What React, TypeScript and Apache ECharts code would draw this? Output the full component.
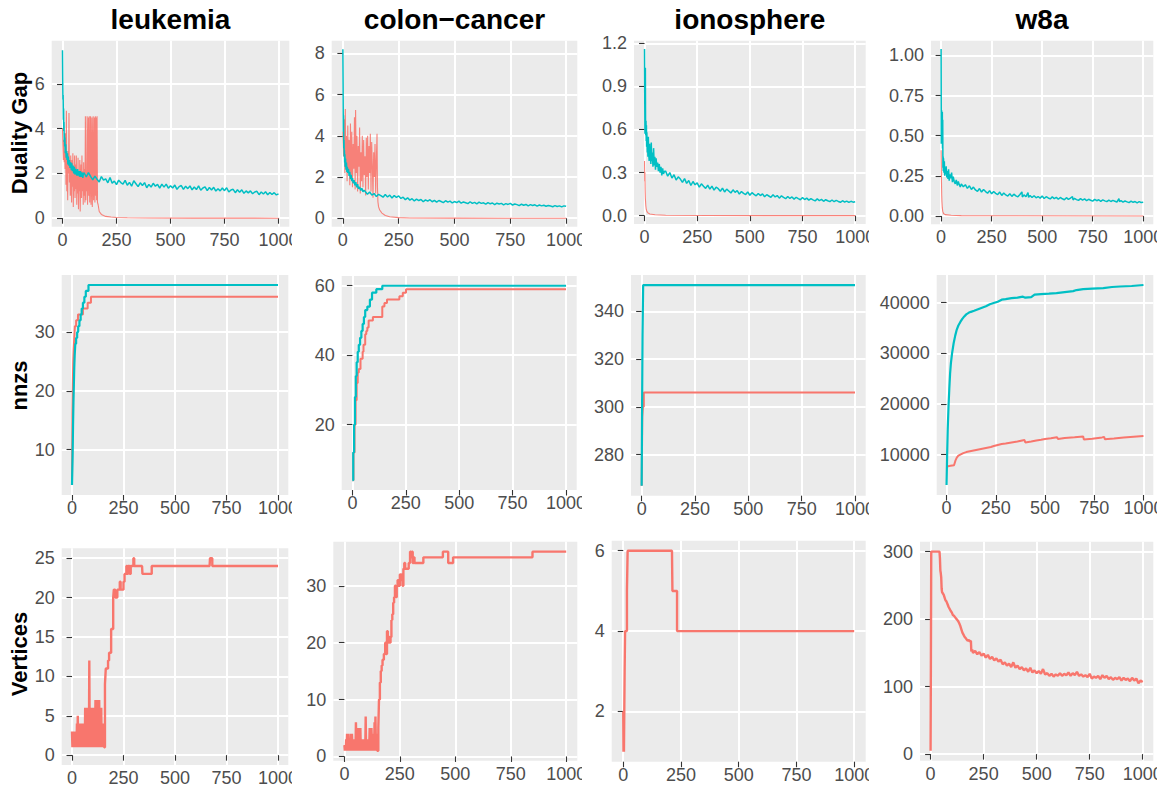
import React, { useEffect, useRef } from "react";
import * as echarts from "echarts";

type Pt = [number, number];

const X_TICKS = [0, 250, 500, 750, 1000];
const COL_TITLES = ["leukemia", "colon\u2212cancer", "ionosphere", "w8a"];
const ROW_TITLES = ["Duality Gap", "nnzs", "Vertices"];
const SERIES_NAMES = ["Method 1", "Method 2"];

// ---------- Row 1: Duality Gap ----------
const leukGapRed: Pt[] = [[0,4.0],[2,3.2],[4,2.6],[6,3.5],[8,2.5],[10,3.0],[12,2.2],[14,3.8],[16,1.5],[18,4.8],[20,1.2],[22,2.5],[24,0.8],[26,3.0],[28,2.0],[30,4.7],[32,1.6],[34,2.6],[36,1.0],[38,2.8],[40,1.8],[42,0.7],[44,2.6],[46,1.4],[48,2.9],[50,0.5],[52,2.2],[54,1.2],[56,2.8],[58,0.9],[60,2.4],[62,1.3],[64,2.8],[66,0.6],[68,2.0],[70,1.1],[72,2.7],[74,0.4],[76,1.9],[78,1.2],[80,2.6],[82,0.3],[84,1.6],[86,2.4],[88,0.9],[90,2.8],[92,1.2],[94,2.1],[96,0.6],[98,2.5],[100,1.0],[102,2.2],[104,0.7],[106,4.55],[108,0.8],[110,2.0],[112,1.2],[114,4.55],[116,0.6],[118,2.4],[120,4.5],[122,1.0],[124,4.55],[126,0.7],[128,2.0],[130,4.55],[132,0.6],[134,1.8],[136,4.5],[138,0.5],[140,2.2],[142,4.55],[144,0.8],[146,1.5],[148,4.5],[150,0.7],[152,4.55],[154,1.0],[156,4.5],[158,0.8],[160,4.55],[162,0.7],[165,0.6],[170,0.3],[180,0.17],[190,0.12],[200,0.08],[225,0.05],[250,0.03],[300,0.02],[400,0.01],[600,0.005],[1000,0]];
const leukGapCyan: Pt[] = [[0,7.5],[1,6.2],[2,5.3],[3,5.5],[4,4.4],[5,4.9],[6,3.9],[7,4.3],[8,3.4],[9,3.8],[10,3.2],[11,3.6],[13,2.9],[15,3.3],[17,2.7],[19,3.0],[21,2.6],[23,2.9],[25,2.4],[27,2.75],[30,2.35],[32,2.6],[35,2.25],[38,2.5],[41,2.15],[43,2.45],[46,2.1],[49,2.35],[52,2.0],[55,2.3],[58,1.95],[61,2.2],[64,2.05],[67,1.9],[70,2.2],[73,1.9],[76,2.1],[79,1.85],[83,2.1],[86,1.85],[90,2.05],[94,1.8],[97,2.0],[100,2.03],[110,1.84],[120,2.04],[130,1.87],[140,1.71],[150,1.88],[160,1.74],[170,1.62],[180,1.86],[190,1.70],[200,1.76],[210,1.58],[220,1.82],[230,1.56],[240,1.66],[250,1.50],[260,1.70],[270,1.59],[280,1.52],[290,1.69],[300,1.47],[310,1.60],[320,1.43],[330,1.67],[340,1.54],[350,1.41],[360,1.58],[370,1.46],[380,1.59],[390,1.36],[400,1.51],[410,1.39],[420,1.56],[430,1.43],[440,1.51],[450,1.34],[460,1.52],[470,1.39],[480,1.52],[490,1.34],[500,1.45],[510,1.35],[520,1.48],[530,1.29],[540,1.41],[550,1.46],[560,1.29],[570,1.43],[580,1.32],[590,1.44],[600,1.27],[610,1.39],[620,1.28],[630,1.44],[640,1.25],[650,1.35],[660,1.40],[670,1.23],[680,1.37],[690,1.26],[700,1.38],[710,1.21],[720,1.32],[730,1.22],[740,1.35],[750,1.23],[760,1.36],[770,1.17],[780,1.26],[790,1.29],[800,1.14],[810,1.27],[820,1.16],[830,1.27],[840,1.11],[850,1.22],[860,1.13],[870,1.22],[880,1.09],[890,1.17],[900,1.20],[910,1.05],[920,1.17],[930,1.08],[940,1.18],[950,1.05],[960,1.15],[970,1.06],[980,1.14],[990,1.04],[1000,1.09]];

const colonGapRed: Pt[] = [[0,4.2],[3,3.0],[6,4.8],[9,2.2],[11,5.3],[13,2.5],[16,4.0],[19,1.8],[22,4.5],[25,2.3],[28,3.8],[31,1.6],[34,4.6],[37,2.0],[40,4.2],[43,1.5],[46,3.6],[49,2.4],[52,4.9],[55,1.4],[57,5.25],[60,2.2],[63,4.0],[66,1.3],[69,3.5],[72,2.5],[75,4.4],[78,1.2],[81,3.2],[84,1.8],[87,4.0],[90,1.5],[93,3.8],[96,2.1],[99,3.0],[102,1.1],[105,3.9],[108,2.0],[111,4.0],[114,1.4],[117,3.5],[120,2.2],[123,4.1],[126,1.3],[129,3.7],[132,2.6],[135,1.0],[138,3.2],[141,2.0],[144,3.6],[147,1.2],[150,2.8],[153,4.1],[155,1.5],[157,0.8],[160,0.55],[165,0.4],[175,0.25],[190,0.13],[210,0.07],[250,0.03],[300,0.015],[500,0.005],[1000,0]];
const colonGapCyan: Pt[] = [[0,8.2],[1,6.5],[2,4.2],[3,5.0],[4,3.4],[5,3.8],[6,3.0],[7,3.3],[8,2.7],[9,3.1],[10,2.5],[12,2.9],[14,2.35],[16,2.7],[18,2.25],[20,2.5],[22,2.2],[25,2.4],[28,2.05],[31,2.25],[34,1.9],[37,2.1],[40,1.8],[43,1.95],[46,1.7],[50,1.85],[54,1.6],[58,1.75],[62,1.5],[66,1.65],[70,1.42],[75,1.52],[80,1.35],[85,1.45],[90,1.28],[95,1.36],[100,1.30],[110,1.16],[120,1.27],[130,1.12],[140,1.20],[150,1.05],[160,1.16],[170,1.10],[180,1.02],[190,1.15],[200,1.03],[210,1.12],[220,0.98],[230,1.10],[240,1.01],[250,1.08],[260,0.96],[270,1.02],[280,0.90],[290,0.99],[300,0.88],[310,0.95],[320,0.84],[330,0.93],[340,0.86],[350,0.91],[360,0.80],[370,0.89],[380,0.83],[390,0.90],[400,0.80],[410,0.87],[420,0.78],[430,0.86],[440,0.81],[450,0.76],[460,0.85],[470,0.78],[480,0.83],[490,0.74],[500,0.81],[510,0.76],[520,0.83],[530,0.73],[540,0.79],[550,0.75],[560,0.71],[570,0.80],[580,0.72],[590,0.77],[600,0.70],[610,0.78],[620,0.72],[630,0.75],[640,0.68],[650,0.76],[660,0.70],[670,0.74],[680,0.66],[690,0.73],[700,0.69],[710,0.72],[720,0.65],[730,0.71],[740,0.67],[750,0.72],[760,0.64],[770,0.69],[780,0.66],[790,0.61],[800,0.68],[810,0.63],[820,0.67],[830,0.60],[840,0.66],[850,0.62],[860,0.65],[870,0.59],[880,0.64],[890,0.60],[900,0.63],[910,0.58],[920,0.62],[930,0.59],[940,0.56],[950,0.61],[960,0.57],[970,0.60],[980,0.55],[990,0.60],[1000,0.58]];

const ionoGapRed: Pt[] = [[0,0.38],[1,0.24],[2,0.3],[3,0.18],[4,0.12],[6,0.07],[8,0.045],[11,0.03],[15,0.02],[25,0.012],[50,0.006],[100,0.003],[300,0.001],[1000,0]];
const ionoGapCyan: Pt[] = [[0,1.16],[1,0.82],[2,0.57],[3,0.66],[4,1.03],[5,0.6],[6,0.56],[7,0.66],[8,0.52],[9,0.63],[10,0.48],[11,0.58],[13,0.44],[15,0.52],[16,0.41],[18,0.55],[20,0.43],[22,0.38],[24,0.5],[26,0.4],[28,0.46],[30,0.36],[32,0.51],[34,0.38],[37,0.44],[40,0.34],[43,0.47],[46,0.35],[49,0.41],[52,0.32],[55,0.4],[58,0.34],[62,0.37],[66,0.31],[70,0.36],[74,0.3],[78,0.34],[82,0.28],[86,0.33],[90,0.29],[95,0.31],[100,0.31],[110,0.275],[120,0.30],[130,0.262],[140,0.285],[150,0.248],[160,0.27],[170,0.255],[180,0.232],[190,0.258],[200,0.225],[210,0.245],[220,0.21],[230,0.238],[240,0.215],[250,0.228],[260,0.198],[270,0.222],[280,0.205],[290,0.19],[300,0.212],[310,0.185],[320,0.205],[330,0.178],[340,0.198],[350,0.188],[360,0.17],[370,0.192],[380,0.165],[390,0.185],[400,0.172],[410,0.158],[420,0.18],[430,0.162],[440,0.175],[450,0.15],[460,0.168],[470,0.155],[480,0.147],[490,0.165],[500,0.142],[510,0.16],[520,0.148],[530,0.138],[540,0.155],[550,0.14],[560,0.152],[570,0.132],[580,0.146],[590,0.137],[600,0.128],[610,0.145],[620,0.13],[630,0.14],[640,0.122],[650,0.138],[660,0.127],[670,0.118],[680,0.134],[690,0.12],[700,0.13],[710,0.115],[720,0.128],[730,0.119],[740,0.111],[750,0.126],[760,0.112],[770,0.122],[780,0.108],[790,0.119],[800,0.11],[810,0.103],[820,0.117],[830,0.105],[840,0.113],[850,0.1],[860,0.111],[870,0.104],[880,0.098],[890,0.109],[900,0.097],[910,0.106],[920,0.099],[930,0.093],[940,0.104],[950,0.095],[960,0.101],[970,0.092],[980,0.1],[990,0.094],[1000,0.097]];

const w8aGapRed: Pt[] = [[0,0.41],[1,0.3],[2,0.2],[3,0.13],[4,0.09],[6,0.05],[8,0.03],[12,0.015],[20,0.008],[50,0.004],[100,0.002],[1000,0]];
const w8aGapCyan: Pt[] = [[0,1.04],[1,0.45],[2,0.66],[3,0.5],[4,0.63],[5,0.55],[6,0.65],[7,0.42],[8,0.6],[9,0.3],[10,0.37],[11,0.28],[12,0.36],[14,0.27],[16,0.34],[18,0.25],[20,0.3],[22,0.26],[25,0.31],[28,0.24],[31,0.28],[34,0.23],[37,0.29],[40,0.22],[44,0.26],[48,0.235],[52,0.27],[56,0.21],[60,0.245],[65,0.215],[70,0.2],[75,0.225],[80,0.19],[85,0.215],[90,0.195],[95,0.18],[100,0.2],[110,0.182],[120,0.195],[130,0.172],[140,0.188],[150,0.165],[160,0.18],[170,0.162],[180,0.153],[190,0.171],[200,0.149],[210,0.165],[220,0.152],[230,0.142],[240,0.158],[250,0.138],[260,0.152],[270,0.141],[280,0.133],[290,0.149],[300,0.128],[310,0.143],[320,0.131],[330,0.124],[340,0.139],[350,0.122],[360,0.136],[370,0.125],[380,0.119],[390,0.134],[400,0.15],[402,0.118],[410,0.131],[420,0.12],[430,0.145],[433,0.116],[440,0.128],[450,0.115],[460,0.126],[470,0.113],[480,0.121],[490,0.111],[500,0.124],[510,0.109],[520,0.12],[530,0.112],[540,0.106],[550,0.119],[560,0.108],[570,0.116],[580,0.104],[590,0.115],[600,0.107],[610,0.101],[620,0.114],[630,0.103],[640,0.111],[650,0.12],[653,0.1],[660,0.11],[670,0.102],[680,0.097],[690,0.108],[700,0.099],[710,0.106],[720,0.096],[730,0.104],[740,0.098],[750,0.092],[760,0.103],[770,0.095],[780,0.101],[790,0.091],[800,0.1],[810,0.094],[820,0.089],[830,0.099],[840,0.09],[850,0.097],[860,0.092],[870,0.087],[880,0.108],[883,0.089],[890,0.095],[900,0.086],[910,0.093],[920,0.088],[930,0.083],[940,0.092],[950,0.085],[960,0.09],[970,0.082],[980,0.089],[990,0.084],[1000,0.086]];

// ---------- Row 2: nnzs ----------
const leukNnzRed: Pt[] = [[0,4],[2,16],[4,21],[6,25],[8,27],[11,29],[14,31],[20,32],[29,33],[53,34],[76,35],[92,36],[1000,36]];
const leukNnzCyan: Pt[] = [[0,4],[3,9],[5,14],[7,18],[9,21],[11,24],[13,26],[16,28],[20,29],[25,30],[30,31],[36,32],[42,33],[47,34],[53,35],[60,36],[67,37],[80,38],[1000,38]];
const colonNnzRed: Pt[] = [[0,4],[5,12],[10,20],[15,27],[20,32],[25,35],[30,36],[38,39],[48,41],[52,43],[60,46],[65,47],[70,48],[76,50],[96,51],[140,54],[150,55],[162,56],[220,57],[236,58],[251,59],[1000,59]];
const colonNnzCyan: Pt[] = [[0,4],[4,12],[8,20],[12,28],[16,34],[20,38],[25,41],[30,43],[36,45],[42,47],[48,49],[54,51],[60,53],[70,54],[82,56],[92,58],[112,59],[140,60],[1000,60]];
const ionoNnzRed: Pt[] = [[0,267],[3,296],[6,300],[10,306],[1000,306]];
const ionoNnzCyan: Pt[] = [[0,267],[2,300],[4,330],[7,351],[1000,351]];
const w8aNnzRed: Pt[] = [[0,7500],[8,7700],[20,7800],[38,7900],[45,8800],[52,9400],[60,9800],[70,10000],[85,10300],[100,10500],[125,10700],[150,10900],[175,11100],[200,11300],[225,11500],[240,11700],[260,11900],[280,12100],[300,12200],[330,12400],[360,12600],[396,12900],[400,12400],[430,12600],[456,12800],[480,12950],[500,13100],[530,13250],[560,13450],[566,13100],[600,13300],[650,13450],[694,13600],[697,13000],[740,13150],[790,13400],[800,13500],[804,13050],[850,13200],[900,13400],[950,13550],[1000,13700]];
const w8aNnzCyan: Pt[] = [[0,4000],[3,10000],[6,15000],[10,19500],[14,23000],[18,26000],[22,28000],[28,30000],[36,32000],[44,33500],[52,34700],[60,35500],[70,36200],[80,36800],[90,37300],[100,37700],[112,38000],[124,38200],[140,38400],[160,38700],[180,39000],[200,39300],[220,39700],[243,40000],[260,40200],[280,40600],[300,40700],[330,40900],[360,41000],[388,41200],[400,41000],[430,41100],[447,41600],[480,41700],[520,41800],[558,41900],[600,42100],[643,42300],[660,42500],[694,42700],[740,42800],[796,42900],[840,43100],[881,43200],[940,43300],[1000,43500]];

// ---------- Row 3: Vertices ----------
const leukVertRed: Pt[] = [[0,3],[2,1],[4,3],[6,1],[8,2],[10,1],[12,2],[14,1],[16,3],[18,1],[20,2],[22,1],[24,4],[26,1],[28,5],[30,1],[32,3],[34,1],[36,4],[38,1],[40,2],[42,4],[44,1],[46,3],[48,1],[50,4],[52,2],[54,1],[56,4],[58,1],[60,3],[62,1],[64,6],[66,1],[68,5],[70,2],[72,6],[74,1],[76,4],[78,1],[80,3],[82,1],[84,12],[86,2],[88,1],[90,6],[92,1],[94,4],[96,1],[98,6],[100,2],[102,1],[104,5],[106,1],[108,6],[110,1],[112,3],[114,7],[116,1],[118,5],[120,1],[122,7],[124,2],[126,1],[128,6],[130,1],[132,7],[134,2],[136,1],[138,4],[140,1],[142,6],[144,1],[146,3],[148,1],[150,2],[152,1],[154,4],[156,1],[158,1],[160,9],[162,10],[164,11],[175,12],[180,13],[190,16],[200,20],[203,21],[210,20],[220,21],[232,22],[236,21],[250,22],[255,23],[264,24],[268,23],[272,24],[280,23],[285,24],[298,25],[302,24],[340,24],[342,23],[387,24],[668,24],[670,25],[681,24],[1000,24]];
const colonVertRed: Pt[] = [[0,2],[2,1],[4,2],[6,1],[8,3],[10,1],[12,4],[14,1],[16,2],[18,4],[20,1],[22,3],[24,1],[26,2],[28,1],[30,4],[32,1],[34,4],[36,2],[38,1],[40,3],[42,1],[44,2],[46,1],[48,3],[50,1],[52,6],[54,2],[56,1],[58,5],[60,1],[62,3],[64,1],[66,5],[68,2],[70,1],[72,5],[74,1],[76,2],[78,1],[80,3],[82,1],[84,2],[86,1],[88,3],[90,1],[92,2],[94,1],[96,7],[98,1],[100,3],[102,1],[104,2],[106,1],[108,3],[110,1],[112,2],[114,5],[116,1],[118,3],[120,1],[122,5],[124,2],[126,1],[128,4],[130,1],[132,2],[134,1],[136,6],[138,1],[140,7],[142,2],[144,1],[146,4],[148,1],[150,1],[153,5],[156,10],[160,13],[164,15],[168,16],[172,17],[178,18],[184,20],[188,18],[192,22],[196,20],[200,21],[204,20],[208,21],[212,24],[216,25],[220,27],[224,28],[228,30],[232,28],[236,30],[240,31],[246,30],[250,32],[254,31],[258,32],[262,30],[266,33],[270,34],[274,33],[290,34],[296,36],[300,35],[304,36],[308,34],[312,35],[316,34],[356,35],[444,36],[468,34],[490,35],[848,36],[1000,36]];
const ionoVertRed: Pt[] = [[0,2],[1,1],[2,2],[3,1],[5,1],[6,3],[8,4],[16,5],[19,6],[211,6],[213,5],[233,4],[1000,4]];
const w8aVertRed: Pt[] = [[0,5],[3,300],[42,300],[44,290],[46,272],[48,268],[50,262],[52,245],[54,240],[58,238],[62,236],[66,232],[70,228],[75,226],[80,222],[85,218],[90,215],[95,212],[100,210],[105,206],[110,205],[115,203],[120,201],[125,199],[130,197],[135,194],[140,190],[145,185],[150,180],[155,177],[160,174],[165,172],[170,170],[175,168],[180,169],[185,167],[190,168],[192,152],[196,155],[200,150],[210,153],[220,148],[230,151],[240,146],[250,149],[260,143],[270,147],[280,141],[290,144],[300,139],[310,142],[320,137],[330,140],[340,133],[350,136],[360,131],[370,134],[380,129],[390,136],[400,128],[410,131],[420,126],[430,129],[440,124],[450,127],[460,122],[470,128],[480,121],[490,124],[500,120],[510,123],[520,119],[530,126],[540,118],[550,120],[560,116],[570,119],[580,115],[590,118],[600,116],[610,120],[620,116],[630,119],[640,117],[650,121],[660,116],[670,120],[680,117],[690,122],[700,116],[710,118],[720,115],[730,117],[740,114],[750,119],[760,112],[770,115],[780,113],[790,116],[800,111],[810,117],[820,113],[830,116],[840,111],[850,114],[860,110],[870,113],[880,111],[890,114],[900,109],[910,113],[920,110],[930,112],[940,108],[950,113],[960,109],[970,112],[980,105],[990,109],[1000,107]];

// Y tick labels per panel
const Y_TICKS: number[][] = [
  [0, 2, 4, 6], [0, 2, 4, 6, 8], [0, 0.3, 0.6, 0.9, 1.2], [0, 0.25, 0.5, 0.75, 1.0],
  [10, 20, 30], [20, 40, 60], [280, 300, 320, 340], [10000, 20000, 30000, 40000],
  [0, 5, 10, 15, 20, 25], [0, 10, 20, 30], [2, 4, 6], [0, 100, 200, 300],
];
const Y_DECIMALS = [0, 0, 1, 2, 0, 0, 0, 0, 0, 0, 0, 0];

// ---------- layout (pixels) ----------
const FONT = '"Liberation Sans", Arial, Helvetica, sans-serif';
const RED = "#F8766D";
const CYAN = "#00BFC4";
const TICK_FONT = 18;

// [left, top, width, height, yMin, yMax]
const LAYOUT: number[][] = [
  [51.7, 40.7, 237.6, 186, -0.38, 7.93],
  [331.7, 40.7, 245.6, 186, -0.41, 8.61],
  [634, 40.7, 231.7, 183.3, -0.058, 1.218],
  [931, 40.7, 222.3, 183.6, -0.052, 1.092],
  [61.7, 275, 226.6, 220, 2.3, 39.7],
  [341.7, 276, 235, 214, 1.2, 62.8],
  [631, 275, 234.7, 220.7, 262.8, 355.2],
  [936.7, 275, 216.6, 220, 2025, 45475],
  [61.7, 548.3, 226.6, 216.7, -1.25, 26.25],
  [333.3, 541.7, 244, 219, -0.75, 37.75],
  [611.7, 540.7, 254, 221, 0.75, 6.25],
  [920, 541.7, 233.3, 219, -9.75, 314.75],
];

const PANEL_DATA: { red: Pt[]; cyan: Pt[] | null; step: boolean }[] = [
  { red: leukGapRed, cyan: leukGapCyan, step: false },
  { red: colonGapRed, cyan: colonGapCyan, step: false },
  { red: ionoGapRed, cyan: ionoGapCyan, step: false },
  { red: w8aGapRed, cyan: w8aGapCyan, step: false },
  { red: leukNnzRed, cyan: leukNnzCyan, step: true },
  { red: colonNnzRed, cyan: colonNnzCyan, step: true },
  { red: ionoNnzRed, cyan: ionoNnzCyan, step: true },
  { red: w8aNnzRed, cyan: w8aNnzCyan, step: false },
  { red: leukVertRed, cyan: null, step: true },
  { red: colonVertRed, cyan: null, step: true },
  { red: ionoVertRed, cyan: null, step: true },
  { red: w8aVertRed, cyan: null, step: false },
];

const COL_TITLE_X = [170.5, 454.5, 749.8, 1042];
const ROW_TITLE_Y = [133, 385.5, 654];
const LABEL_CUTS = [292, 582, 869, 1157];

function buildOption() {
  const grid: any[] = [];
  const xAxis: any[] = [];
  const yAxis: any[] = [];
  const series: any[] = [];
  LAYOUT.forEach((r, i) => {
    const [left, top, width, height, yMin, yMax] = r;
    const row = Math.floor(i / 4);
    grid.push({
      left, top, width, height,
      show: true, backgroundColor: "#EBEBEB", borderWidth: 0,
      containLabel: false, outerBoundsMode: "none",
    });
    xAxis.push({
      type: "value", gridIndex: i, min: -50, max: 1050,
      axisLine: { show: false },
      axisTick: { show: true, length: 5.5, lineStyle: { color: "#333333", width: 1.1 }, customValues: X_TICKS },
      axisLabel: {
        customValues: X_TICKS, color: "#4D4D4D", fontSize: TICK_FONT, fontFamily: FONT, margin: 4, hideOverlap: false,
        formatter: (v: number) => String(Math.round(v)),
      },
      splitLine: { show: true, lineStyle: { color: "#FFFFFF", width: 2 } },
    });
    const dec = Y_DECIMALS[i];
    yAxis.push({
      type: "value", gridIndex: i, min: yMin, max: yMax,
      axisLine: { show: false },
      axisTick: { show: true, length: 5.5, lineStyle: { color: "#333333", width: 1.1 }, customValues: Y_TICKS[i] },
      axisLabel: {
        customValues: Y_TICKS[i], color: "#4D4D4D", fontSize: TICK_FONT, fontFamily: FONT, margin: 7,
        formatter: (v: number) => v.toFixed(dec),
      },
      splitLine: { show: true, lineStyle: { color: "#FFFFFF", width: 2 } },
    });
    const d = PANEL_DATA[i];
    const thin = row === 0;
    series.push({
      type: "line", name: SERIES_NAMES[0], xAxisIndex: i, yAxisIndex: i, data: d.red,
      showSymbol: false, symbol: "none", step: d.step ? "end" : false, silent: true,
      lineStyle: { color: RED, width: thin ? 1.1 : row === 1 ? 2 : 2.4, opacity: thin ? 0.9 : 1 },
      itemStyle: { color: RED }, z: 2,
    });
    if (d.cyan) {
      series.push({
        type: "line", name: SERIES_NAMES[1], xAxisIndex: i, yAxisIndex: i, data: d.cyan,
        showSymbol: false, symbol: "none", step: d.step ? "end" : false, silent: true,
        lineStyle: { color: CYAN, width: thin ? 1.5 : 2.2 },
        itemStyle: { color: CYAN }, z: 3,
      });
    }
  });

  const graphic: any[] = [];
  COL_TITLES.forEach((t, c) => {
    graphic.push({
      type: "text", x: COL_TITLE_X[c], y: 19.5, z: 10,
      style: { text: t, fill: "#000000", fontSize: 28, fontWeight: "bold", fontFamily: FONT, align: "center", verticalAlign: "middle" },
    });
  });
  ROW_TITLES.forEach((t, r) => {
    graphic.push({
      type: "text", x: 19.5, y: ROW_TITLE_Y[r], rotation: Math.PI / 2, z: 10,
      style: { text: t, fill: "#000000", fontSize: 22, fontWeight: "bold", fontFamily: FONT, align: "center", verticalAlign: "middle" },
    });
  });
  // x tick labels that run past each plot's right edge are cut off
  const rowBottoms = [224, 490, 760];
  LABEL_CUTS.forEach((cx) => {
    rowBottoms.forEach((b) => {
      graphic.push({
        type: "rect", z: 100, silent: true,
        shape: { x: cx, y: b + 2, width: 9, height: 30 },
        style: { fill: "#FFFFFF" },
      });
    });
  });

  return {
    animation: false,
    backgroundColor: "#FFFFFF",
    grid, xAxis, yAxis, series, graphic,
  };
}

export default function App() {
  const ref = useRef<HTMLDivElement | null>(null);
  useEffect(() => {
    document.body.style.margin = "0";
    if (!ref.current) return;
    const chart = echarts.init(ref.current, undefined, { renderer: "svg" });
    chart.setOption(buildOption() as any);
    return () => chart.dispose();
  }, []);
  return <div ref={ref} style={{ position: "fixed", left: 0, top: 0, width: 1166, height: 788 }} />;
}
